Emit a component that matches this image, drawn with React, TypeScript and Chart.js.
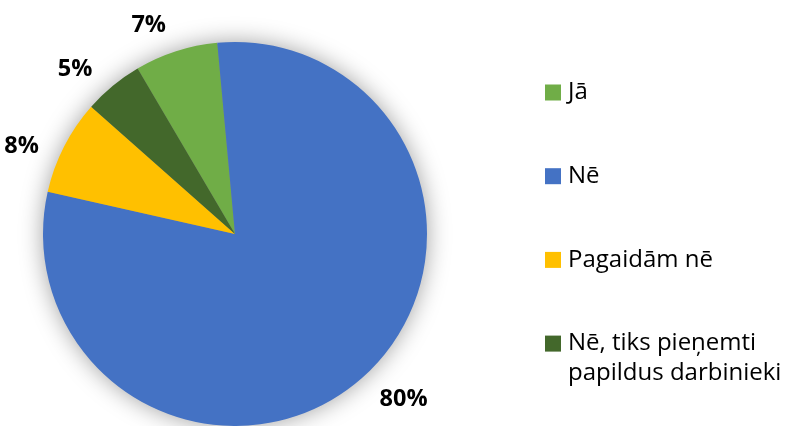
import React, { useEffect, useRef } from "react";
import { Chart, registerables } from "chart.js";

Chart.register(...registerables);

const categories: string[][] = [["Jā"], ["Nē"], ["Pagaidām nē"], ["Nē, tiks pieņemti", "papildus darbinieki"]];
const values: number[] = [7, 80, 8, 5];
const colors: string[] = ["#70AD47", "#4472C4", "#FFC000", "#43682B"];
const valueLabels: string[] = ["7%", "80%", "8%", "5%"];

const LABEL_FONT = "'Open Sans', 'Noto Sans', sans-serif";
const LEGEND_FONT = "'Open Sans', Lato, sans-serif";

const shadowPlugin = {
  id: "pieShadow",
  beforeDatasetsDraw(chart: any) {
    const meta = chart.getDatasetMeta(0);
    const arc = meta.data[0];
    if (!arc) return;
    const { x, y, outerRadius } = arc.getProps(["x", "y", "outerRadius"], true);
    const ctx = chart.ctx;
    ctx.save();
    ctx.shadowColor = "rgba(0,0,0,0.4)";
    ctx.shadowBlur = 24;
    ctx.beginPath();
    ctx.arc(x, y, outerRadius - 1, 0, Math.PI * 2);
    ctx.fillStyle = "#888";
    ctx.fill();
    ctx.restore();
  },
};

const labelPlugin = {
  id: "outLabels",
  afterDatasetsDraw(chart: any) {
    const ctx = chart.ctx;
    const meta = chart.getDatasetMeta(0);
    ctx.save();
    ctx.font = `bold 23.5px ${LABEL_FONT}`;
    ctx.fillStyle = "#000";
    ctx.textAlign = "center";
    ctx.textBaseline = "middle";
    const shift = (4.5 * Math.PI) / 180;
    meta.data.forEach((arc: any, i: number) => {
      const { x, y, startAngle, endAngle, outerRadius } = arc.getProps(
        ["x", "y", "startAngle", "endAngle", "outerRadius"],
        true
      );
      const mid = (startAngle + endAngle) / 2 - shift;
      const ux = Math.cos(mid);
      const uy = Math.sin(mid);
      const text = valueLabels[i];
      const w = ctx.measureText(text).width;
      const h = 17;
      const d = outerRadius + 20 + Math.abs(ux) * w / 2 + Math.abs(uy) * h / 2;
      ctx.fillText(text, x + ux * d, y + uy * d + 1);
    });
    ctx.restore();
  },
};

const legendPlugin = {
  id: "customLegend",
  afterDraw(chart: any) {
    const ctx = chart.ctx;
    ctx.save();
    ctx.font = `24px ${LEGEND_FONT}`;
    ctx.textBaseline = "middle";
    ctx.textAlign = "left";
    const x0 = 545;
    const y0 = 92.5;
    const step = 83.7;
    const lineH = 30;
    categories.forEach((lines, i) => {
      const cy = y0 + i * step;
      ctx.fillStyle = colors[i];
      ctx.fillRect(x0, cy - 8, 16, 16);
      ctx.fillStyle = "#000";
      lines.forEach((ln, j) => {
        ctx.fillText(ln, x0 + 23, cy + j * lineH);
      });
    });
    ctx.restore();
  },
};

export default function App() {
  const ref = useRef<HTMLCanvasElement | null>(null);
  useEffect(() => {
    document.body.style.margin = "0";
    if (!ref.current) return;
    const chart = new Chart(ref.current, {
      type: "pie",
      data: {
        labels: categories.map((c) => c.join(" ")),
        datasets: [
          {
            data: values,
            backgroundColor: colors,
            borderWidth: 0,
          },
        ],
      },
      options: {
        responsive: false,
        animation: false,
        rotation: -30.5,
        layout: { padding: { left: 43, top: 42, right: 358, bottom: 0 } },
        plugins: {
          legend: { display: false },
          tooltip: { enabled: false },
        },
      },
      plugins: [shadowPlugin, labelPlugin, legendPlugin],
    });
    return () => chart.destroy();
  }, []);
  return (
    <div style={{ position: "absolute", left: 0, top: 0, width: 785, height: 426, background: "#fff" }}>
      <canvas ref={ref} width={785} height={426} />
    </div>
  );
}
